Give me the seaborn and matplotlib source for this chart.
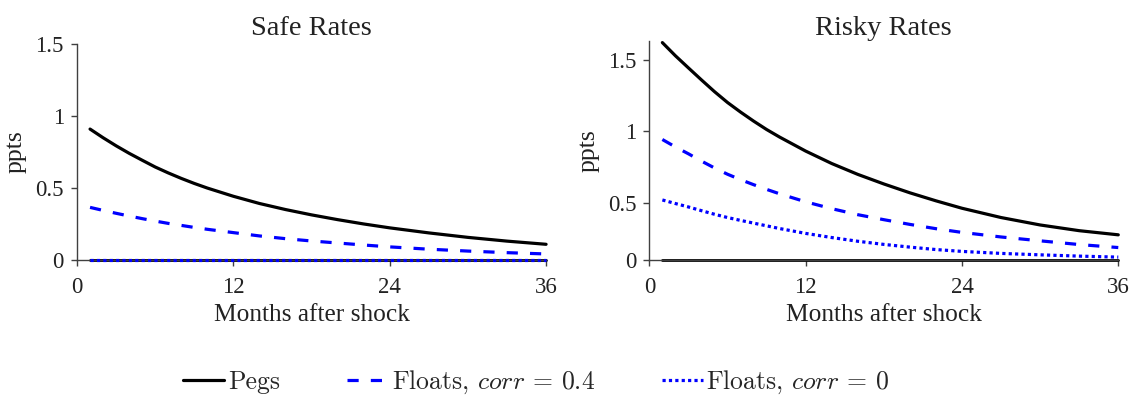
import numpy as np
import pandas as pd
import matplotlib
matplotlib.use("Agg")
import matplotlib.pyplot as plt
from matplotlib.lines import Line2D
import seaborn as sns

# --- data (ppts, months after shock) ---
months = [1, 2, 3, 4, 5, 6, 7, 8, 9, 10, 12, 14, 16, 18, 20, 22, 24, 27, 30, 33, 36]

safe_pegs = [0.908, 0.848, 0.792, 0.740, 0.692, 0.645, 0.604, 0.566, 0.531, 0.499, 0.442,
             0.392, 0.350, 0.313, 0.280, 0.250, 0.223, 0.188, 0.157, 0.131, 0.109]
safe_floats_04 = [0.365, 0.344, 0.324, 0.305, 0.287, 0.270, 0.254, 0.240, 0.226, 0.213, 0.190,
                  0.167, 0.148, 0.132, 0.118, 0.104, 0.091, 0.075, 0.062, 0.051, 0.042]
safe_floats_0 = [0.0, 0.0, 0.0, 0.0, 0.0, 0.0, 0.0, 0.0, 0.0, 0.0, 0.0,
                 0.0, 0.0, 0.0, 0.0, 0.0, 0.0, 0.0, 0.0, 0.0, 0.0]

risky_pegs = [1.619, 1.527, 1.442, 1.358, 1.276, 1.200, 1.133, 1.070, 1.011, 0.958, 0.860,
              0.773, 0.697, 0.630, 0.568, 0.512, 0.460, 0.395, 0.343, 0.303, 0.274]
risky_floats_04 = [0.941, 0.889, 0.841, 0.790, 0.742, 0.698, 0.660, 0.625, 0.592, 0.561, 0.505,
                   0.457, 0.415, 0.380, 0.347, 0.317, 0.291, 0.259, 0.232, 0.206, 0.185]
risky_floats_0 = [0.518, 0.493, 0.469, 0.443, 0.418, 0.395, 0.375, 0.356, 0.337, 0.318, 0.284,
                  0.255, 0.229, 0.207, 0.188, 0.171, 0.158, 0.144, 0.134, 0.125, 0.118]

series_names = ["Pegs", "Floats, $corr$ = 0.4", "Floats, $corr$ = 0"]
panel_titles = ["Safe Rates", "Risky Rates"]
x_ticks = [0, 12, 24, 36]
y_tick_labels = ["0", "0.5", "1", "1.5"]

# the risky panel in the reference has its "0" tick sitting at 0.1 on the 0.5-spaced scale
safe_floor = 0.0
risky_floor = 0.1


def to_long(pegs, floats_04, floats_0):
    frames = []
    for name, vals in zip(series_names, [pegs, floats_04, floats_0]):
        frames.append(pd.DataFrame({"month": months, "ppts": vals, "series": name}))
    return pd.concat(frames, ignore_index=True)


df_safe = to_long(safe_pegs, safe_floats_04, safe_floats_0)
df_risky = to_long(risky_pegs, risky_floats_04, risky_floats_0)

# --- styling ---
sns.set_style("ticks")
plt.rcParams["font.family"] = ["Liberation Serif", "DejaVu Serif"]
plt.rcParams["mathtext.fontset"] = "cm"
text_col = "#222222"
spine_col = "#404040"

palette = {series_names[0]: "black", series_names[1]: "blue", series_names[2]: "blue"}
dashes = {series_names[0]: "", series_names[1]: (3.5, 3.8), series_names[2]: (1, 1)}
lw = 2.3

fig = plt.figure(figsize=(11.36, 3.98), dpi=100)
ax_safe = fig.add_axes([0.0678, 0.3467, 0.4129, 0.5435])
ax_risky = fig.add_axes([0.5716, 0.3475, 0.4128, 0.5487])

panels = [
    (ax_safe, df_safe, safe_floor, (0, 1.5), [0, 0.5, 1, 1.5], 6),
    (ax_risky, df_risky, risky_floor, (0.1, 1.628), [0.1, 0.5, 1, 1.5], 4.5),
]

for (ax, df, floor, ylim, yticks, tpad), title in zip(panels, panel_titles):
    # zero reference line, kept underneath the series
    sns.lineplot(x=months, y=np.full(len(months), floor), color="black", lw=2.0,
                 ax=ax, clip_on=False, zorder=2)
    sns.lineplot(data=df, x="month", y="ppts", hue="series", style="series",
                 hue_order=series_names, style_order=series_names,
                 palette=palette, dashes=dashes, lw=lw, ax=ax, legend=False,
                 clip_on=False, zorder=4)
    ax.set_xlim(0, 36)
    ax.set_ylim(*ylim)
    ax.set_xticks(x_ticks)
    ax.set_yticks(yticks)
    ax.set_yticklabels(y_tick_labels)
    ax.set_title(title, fontsize=20.5, color=text_col, pad=tpad)
    ax.set_xlabel("Months after shock", fontsize=18.3, color=text_col, labelpad=4)
    ax.set_ylabel("ppts", fontsize=18.5, color=text_col, labelpad=6)
    sns.despine(ax=ax)
    for side in ["left", "bottom"]:
        ax.spines[side].set_color(spine_col)
        ax.spines[side].set_linewidth(1.0)
    ax.tick_params(axis="both", direction="out", length=4, width=1, color=spine_col,
                   labelcolor=text_col, labelsize=16.5)
    ax.tick_params(axis="x", pad=8.5)
    ax.tick_params(axis="y", pad=5.5)

handles = [Line2D([], [], color="black", lw=lw),
           Line2D([], [], color="blue", lw=lw, dashes=dashes[series_names[1]]),
           Line2D([], [], color="blue", lw=lw, dashes=dashes[series_names[2]])]
fig.legend(handles, series_names, loc="center", bbox_to_anchor=(0.472, 0.04), ncol=3,
           frameon=False, prop={"family": "cmr10", "size": 18.5},
           handlelength=1.6, handletextpad=0.15, columnspacing=2.6)

fig.savefig("out.png", dpi=100)
